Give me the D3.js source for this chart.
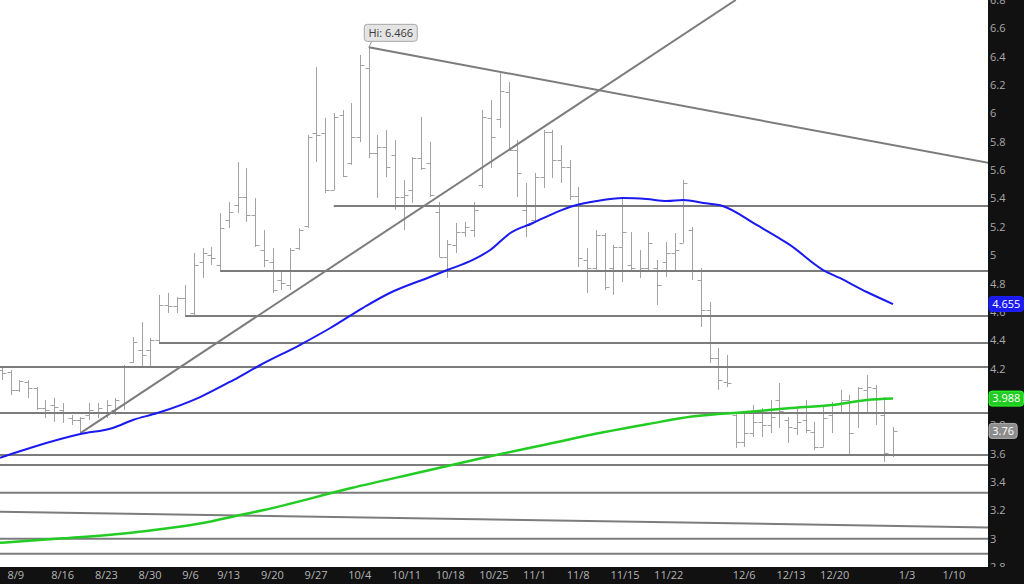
<!DOCTYPE html>
<html>
<head>
<meta charset="utf-8">
<script src="https://cdn.jsdelivr.net/npm/d3@7"></script>
<style>
  body { margin: 0; background: #fff; }
  svg { display: block; font-family: "Open Sans", sans-serif; }
</style>
</head>
<body>
<div id="chart"></div>
<script>
/*--------------------------------------*
 *---------------- Data ----------------*
 *--------------------------------------*/

// Daily bars, trading-day index starting at firstBar (8/6)
const firstBar = -1;
const opens = [4.190, 4.176, 4.049, 4.105, 4.063, 3.922, 3.943, 3.908, 3.851, 3.837,
  3.872, 3.893, 3.893, 3.908, 3.943, 4.246, 4.331, 4.331, 4.401, 4.648,
  4.641, 4.698, 4.592, 4.952, 5.001, 4.931, 5.248, 5.354, 5.410, 5.283,
  5.036, 4.952, 4.825, 4.789, 5.050, 5.206, 5.862, 5.862, 5.460, 5.989,
  5.650, 5.833, 6.320, 5.721, 5.763, 5.707, 5.410, 5.460, 5.685, 5.650,
  5.304, 4.987, 5.072, 5.163, 5.177, 5.495, 5.968, 5.960, 6.151, 5.742,
  5.319, 5.248, 5.551, 5.869, 5.671, 5.622, 5.417, 4.966, 4.909, 5.142,
  4.909, 5.058, 4.931, 4.895, 4.909, 4.909, 4.952, 5.015, 5.086, 5.177,
  4.825, 4.613, 4.274, 4.105, 3.872, 3.682, 3.745, 3.823, 3.802, 3.978,
  3.837, 3.781, 3.837, 3.752, 3.647, 3.872, 3.886, 3.978, 3.893, 4.049,
  4.063, 3.872, 3.590];
const highs = [4.204, 4.190, 4.119, 4.119, 4.070, 3.978, 3.992, 3.957, 3.872, 3.858,
  3.957, 3.957, 3.978, 3.992, 4.225, 4.423, 4.528, 4.416, 4.719, 4.733,
  4.705, 4.789, 5.015, 5.050, 5.058, 5.297, 5.375, 5.657, 5.615, 5.403,
  5.177, 5.050, 4.895, 5.050, 5.191, 5.848, 6.327, 5.968, 6.003, 6.024,
  6.073, 6.412, 6.466, 5.848, 5.883, 5.812, 5.530, 5.692, 5.975, 5.798,
  5.375, 5.107, 5.227, 5.234, 5.375, 6.024, 6.095, 6.285, 6.222, 5.812,
  5.509, 5.580, 5.883, 5.883, 5.777, 5.671, 5.481, 5.050, 5.177, 5.156,
  5.072, 5.403, 5.163, 5.036, 5.163, 4.966, 5.093, 5.156, 5.530, 5.199,
  4.909, 4.669, 4.345, 4.296, 3.886, 3.886, 3.943, 3.922, 3.978, 4.098,
  3.858, 3.922, 3.978, 3.823, 3.929, 3.964, 4.049, 4.013, 4.070, 4.154,
  4.084, 3.999, 3.788];
const lows = [4.119, 4.013, 4.035, 3.992, 3.908, 3.851, 3.823, 3.816, 3.802, 3.745,
  3.837, 3.851, 3.851, 3.872, 3.908, 4.239, 4.211, 4.211, 4.380, 4.592,
  4.592, 4.564, 4.564, 4.839, 4.931, 4.881, 5.191, 5.297, 5.234, 5.058,
  4.916, 4.733, 4.754, 4.754, 5.036, 5.191, 5.657, 5.438, 5.460, 5.551,
  5.636, 5.798, 5.685, 5.403, 5.551, 5.319, 5.177, 5.368, 5.601, 5.410,
  4.987, 4.839, 5.015, 5.128, 5.128, 5.474, 5.615, 5.897, 5.742, 5.410,
  5.128, 5.227, 5.474, 5.544, 5.509, 5.389, 4.916, 4.733, 4.895, 4.754,
  4.719, 4.811, 4.881, 4.839, 4.895, 4.648, 4.846, 4.881, 5.086, 4.825,
  4.493, 4.239, 4.049, 4.070, 3.640, 3.647, 3.717, 3.717, 3.745, 3.781,
  3.675, 3.731, 3.745, 3.625, 3.647, 3.745, 3.886, 3.590, 3.781, 3.893,
  3.802, 3.541, 3.576];
const closes = [4.169, 4.049, 4.112, 4.063, 3.922, 3.908, 3.929, 3.886, 3.837, 3.851,
  3.908, 3.922, 3.943, 3.978, 4.211, 4.387, 4.296, 4.401, 4.648, 4.641,
  4.698, 4.578, 4.931, 5.015, 4.980, 5.191, 5.304, 5.410, 5.283, 5.072,
  4.966, 4.754, 4.804, 5.036, 5.177, 5.833, 5.848, 5.460, 5.975, 5.558,
  5.833, 6.341, 5.721, 5.763, 5.622, 5.410, 5.424, 5.685, 5.615, 5.424,
  4.987, 5.079, 5.163, 5.199, 5.319, 5.975, 5.833, 6.158, 5.742, 5.580,
  5.213, 5.551, 5.869, 5.671, 5.622, 5.417, 4.980, 4.909, 5.142, 4.775,
  5.058, 5.163, 4.909, 4.909, 5.086, 4.789, 5.015, 5.036, 5.509, 4.895,
  4.613, 4.274, 4.119, 4.098, 3.682, 3.745, 3.823, 3.802, 3.858, 3.900,
  3.788, 3.823, 3.766, 3.647, 3.851, 3.886, 3.978, 3.745, 4.063, 4.070,
  3.886, 3.604, 3.760];

// Date axis (trading-day index of each labelled Monday)
const tickIdx = [0, 5, 10, 15, 20, 24, 29, 34, 39, 44, 49, 54, 59, 64, 69, 74, 83, 88, 93, 102, 107];
const tickLabels = ['8/9', '8/16', '8/23', '8/30', '9/6', '9/13', '9/20', '9/27', '10/4', '10/11',
  '10/18', '10/25', '11/1', '11/8', '11/15', '11/22', '12/6', '12/13', '12/20', '1/3', '1/10'];

// Price axis
const priceTicks = d3.range(2.8, 6.81, 0.2);

// Moving averages [index, value]
const blueMA = [[-1.2, 3.571], [2.6, 3.647], [8, 3.738], [11.7, 3.781], [14, 3.837], [16.8, 3.886],
  [21.7, 3.999], [25.5, 4.119], [28.6, 4.225], [33.1, 4.366], [36.6, 4.486], [40.3, 4.627],
  [43.4, 4.733], [48, 4.846], [50, 4.895], [52.9, 4.966], [54.9, 5.036], [57.2, 5.156],
  [59.8, 5.227], [62.5, 5.304], [64.4, 5.347], [67.1, 5.382], [70.1, 5.403], [72.8, 5.396],
  [75.1, 5.382], [77, 5.389], [79.3, 5.368], [81.5, 5.347], [85.4, 5.213], [89.2, 5.072],
  [93, 4.895], [94.9, 4.839], [98, 4.740], [101, 4.655]];
const greenMA = [[-1.2, 2.971], [6, 3.002], [13, 3.036], [18, 3.073], [22, 3.110], [26, 3.163],
  [29, 3.202], [39, 3.357], [47, 3.470], [54, 3.569], [61, 3.661], [68, 3.752], [73, 3.809],
  [78, 3.862], [85, 3.897], [89, 3.920], [94, 3.943], [98, 3.978], [101, 3.988]];

// Horizontal support / resistance levels and the bar they start from
const levelValues = [5.346, 4.888, 4.571, 4.381, 4.211, 3.887, 3.590, 3.520, 3.323, 3.000, 2.894];
const levelStart = [37, 24, 20, 17, -2, -2, -2, -2, -2, -2, -2];

// Trend lines [startIdx, startValue, endIdx, endValue]
const trendLines = [[8, 3.745, 83, 6.80], [41, 6.466, 112, 5.65], [-1.2, 3.19, 112, 3.079]];

// Last values shown on the price axis
const badgeValues = [4.655, 3.988, 3.76];
const badgeColors = ['#1a1af0', '#22cc22', '#8c8c8c'];

const hiValue = 6.466, hiIdx = 41;

/*--------------------------------------*
 *--------------- Setup ----------------*
 *--------------------------------------*/

const W = 1024, H = 584;
const plotW = 988, plotH = 567;

const svg = d3.select('#chart').append('svg')
  .attr('width', W).attr('height', H);

svg.append('rect').attr('width', W).attr('height', H).attr('fill', '#fff');

const x = d3.scaleLinear().domain([-1.2017, 111.87]).range([0, plotW]);
const y = d3.scaleLinear().domain([2.8, 6.8]).range([plotH, 0]);

svg.append('clipPath').attr('id', 'plot-clip')
  .append('rect').attr('width', plotW).attr('height', plotH);

const plot = svg.append('g').attr('clip-path', 'url(#plot-clip)');

/*--------------------------------------*
 *---------------- Bars ----------------*
 *--------------------------------------*/

const bars = opens.map((o, k) => ({
  i: firstBar + k, o: o, h: highs[k], l: lows[k], c: closes[k]
}));

const px = (i) => Math.round(x(i)) + 0.5;

plot.append('g')
  .selectAll('path')
  .data(bars)
  .join('path')
  .attr('d', (d) => {
    const cx = px(d.i);
    const yo = Math.round(y(d.o)) + 0.5, yc = Math.round(y(d.c)) + 0.5;
    return 'M' + cx + ',' + y(d.h) + 'V' + y(d.l) +
      'M' + (cx - 4) + ',' + yo + 'H' + cx +
      'M' + cx + ',' + yc + 'H' + (cx + 4);
  })
  .attr('fill', 'none')
  .attr('stroke', '#a2a2a2')
  .attr('stroke-width', 1);

/*--------------------------------------*
 *-------- Levels / trend lines --------*
 *--------------------------------------*/

plot.append('g')
  .selectAll('line')
  .data(levelValues)
  .join('line')
  .attr('x1', (d, k) => x(levelStart[k]))
  .attr('x2', plotW)
  .attr('y1', (d) => y(d))
  .attr('y2', (d) => y(d))
  .attr('stroke', '#7c7c7c')
  .attr('stroke-width', 2);

plot.append('g')
  .selectAll('line')
  .data(trendLines)
  .join('line')
  .attr('x1', (d) => x(d[0]))
  .attr('y1', (d) => y(d[1]))
  .attr('x2', (d) => x(d[2]))
  .attr('y2', (d) => y(d[3]))
  .attr('stroke', '#7c7c7c')
  .attr('stroke-width', 2);

/*--------------------------------------*
 *---------- Moving averages -----------*
 *--------------------------------------*/

const maLine = d3.line()
  .x((d) => x(d[0]))
  .y((d) => y(d[1]))
  .curve(d3.curveMonotoneX);

plot.append('path')
  .datum(blueMA)
  .attr('d', maLine)
  .attr('fill', 'none')
  .attr('stroke', '#1a1af0')
  .attr('stroke-width', 2);

plot.append('path')
  .datum(greenMA)
  .attr('d', maLine)
  .attr('fill', 'none')
  .attr('stroke', '#22cc22')
  .attr('stroke-width', 2.5);

/*--------------------------------------*
 *------------ Hi callout --------------*
 *--------------------------------------*/

const hx = x(hiIdx), hy = y(hiValue);
svg.append('path')
  .attr('d', 'M' + hx + ',' + hy + 'L' + (hx + 3) + ',' + (hy - 6))
  .attr('stroke', '#999')
  .attr('fill', 'none');
svg.append('rect')
  .attr('x', hx - 4.5).attr('y', hy - 23)
  .attr('width', 53).attr('height', 17).attr('rx', 3)
  .attr('fill', '#e4e4e4').attr('stroke', '#a8a8a8');
svg.append('text')
  .attr('x', hx + 22).attr('y', hy - 14.5)
  .attr('dy', '0.35em')
  .attr('text-anchor', 'middle')
  .attr('font-size', 11)
  .attr('fill', '#3a3a3a')
  .text('Hi: ' + hiValue);

/*--------------------------------------*
 *---------------- Axes ----------------*
 *--------------------------------------*/

// Right price axis
svg.append('rect')
  .attr('x', plotW).attr('width', W - plotW).attr('height', H)
  .attr('fill', '#111');

const yAxis = svg.append('g')
  .attr('transform', 'translate(' + plotW + ',0)')
  .call(d3.axisRight(y).tickValues(priceTicks).tickSize(0).tickPadding(2)
    .tickFormat(d3.format('.1~f')));
yAxis.select('.domain').remove();
yAxis.selectAll('text')
  .attr('font-family', '"Open Sans", sans-serif')
  .attr('font-size', 11)
  .attr('fill', '#a9a9a9');

// Value badges
const badges = svg.append('g');
badgeValues.forEach((v, k) => {
  const label = String(v);
  const w = label.length * 6.3 + 3;
  badges.append('rect')
    .attr('x', plotW + 1).attr('y', y(v) - 7.5)
    .attr('width', w).attr('height', 15).attr('rx', 3)
    .attr('fill', badgeColors[k])
    .attr('stroke', d3.color(badgeColors[k]).brighter(0.6));
  badges.append('text')
    .attr('x', plotW + 1 + w / 2).attr('y', y(v))
    .attr('dy', '0.35em')
    .attr('text-anchor', 'middle')
    .attr('font-size', 11)
    .attr('fill', '#fff')
    .text(label);
});

// Bottom date axis
svg.append('rect')
  .attr('y', plotH).attr('width', W).attr('height', H - plotH)
  .attr('fill', '#111');

const xAxis = svg.append('g')
  .attr('transform', 'translate(0,' + plotH + ')')
  .call(d3.axisBottom(x).tickValues(tickIdx).tickSize(0).tickPadding(4)
    .tickFormat((d, k) => tickLabels[k]));
xAxis.select('.domain').remove();
xAxis.selectAll('text')
  .attr('text-anchor', 'start')
  .attr('dx', -3.5)
  .attr('font-family', '"Open Sans", sans-serif')
  .attr('font-size', 11)
  .attr('fill', '#b4b4b4');
</script>
</body>
</html>
